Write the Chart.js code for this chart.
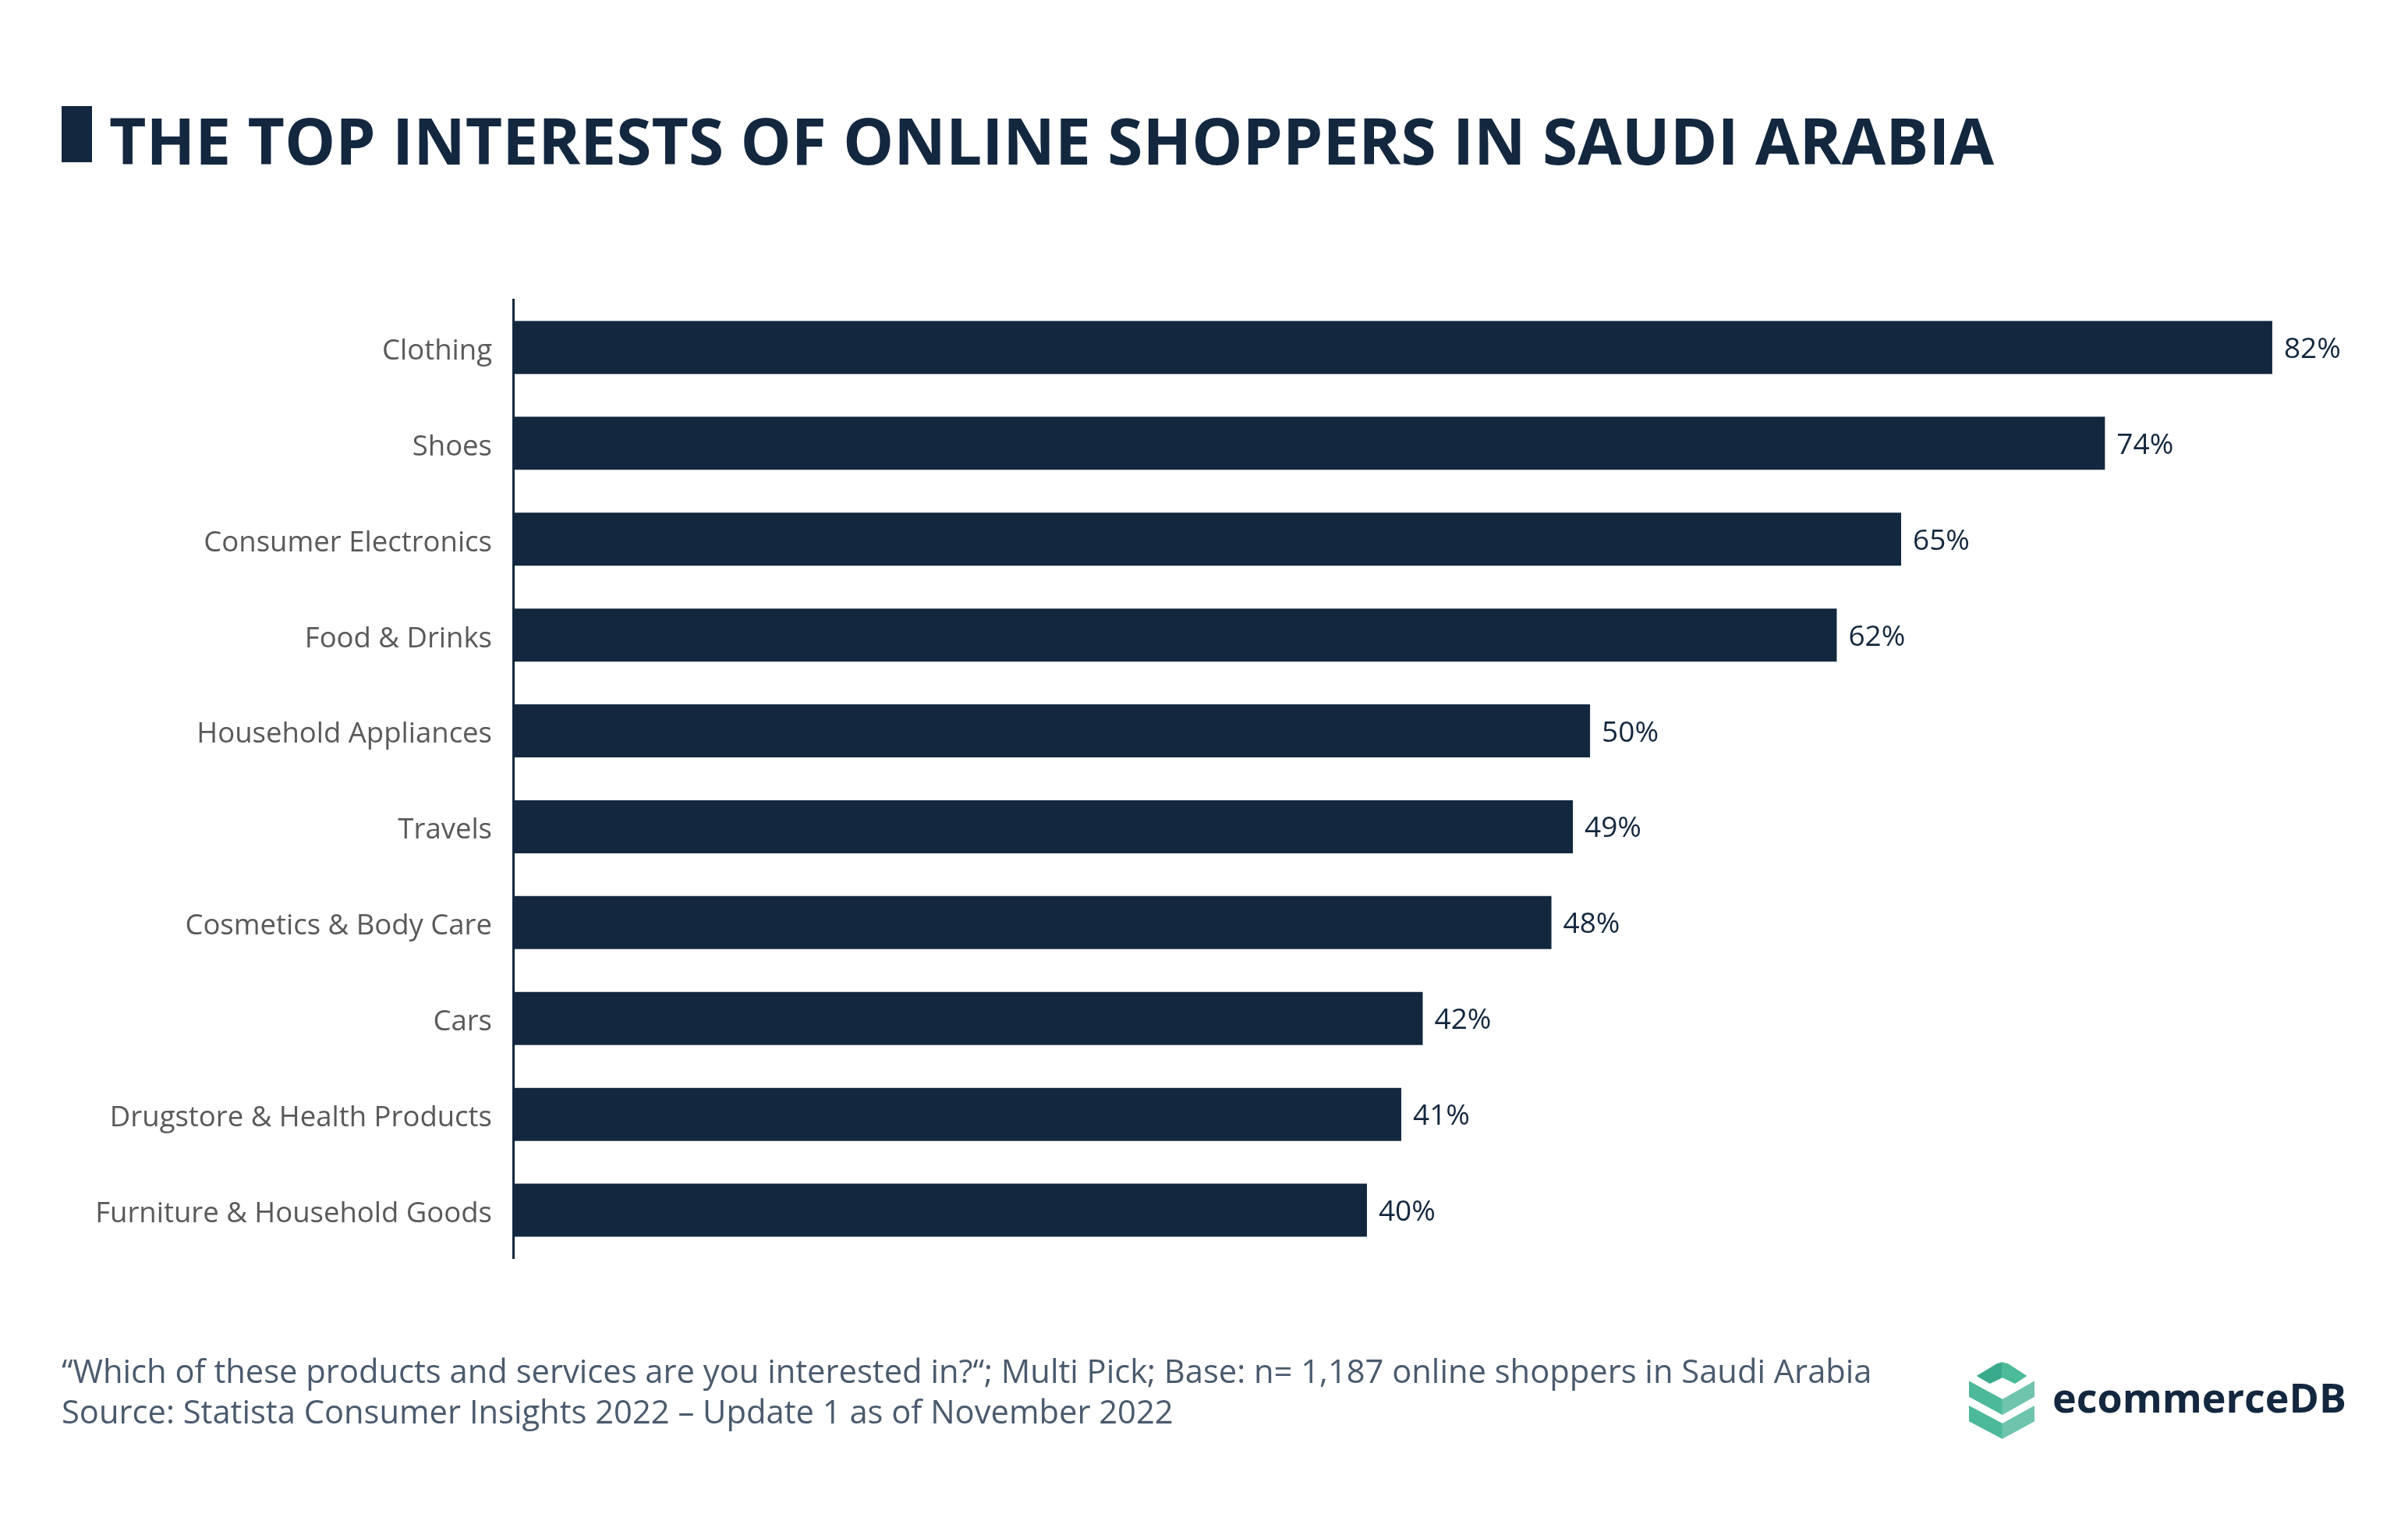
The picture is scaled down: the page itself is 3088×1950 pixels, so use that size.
<!DOCTYPE html>
<html>
<head>
<meta charset="utf-8">
<script src="https://cdn.jsdelivr.net/npm/chart.js@4/dist/chart.umd.min.js"></script>
<style>
	html, body { margin: 0; padding: 0; background: #fff; }
	body { width: 3088px; height: 1950px; position: relative; overflow: hidden; font-family: 'Open Sans', sans-serif; }
	#chart { position: absolute; left: 0; top: 0; }
	.title-mark { position: absolute; left: 79px; top: 136px; width: 39px; height: 72px; background: #13273f; }
	.title { position: absolute; left: 140px; top: 121px; font-size: 82px; font-weight: 700; color: #13273f; line-height: 116px; white-space: nowrap; }
	.note { position: absolute; left: 79px; top: 1731px; font-size: 41.7px; line-height: 52px; color: #4a5a6e; white-space: nowrap; }
	.logo-icon { position: absolute; left: 2525px; top: 1746px; }
	.logo-text { position: absolute; left: 2632px; top: 1756px; font-size: 52px; font-weight: 700; color: #13273f; line-height: 70px; }
</style>
</head>
<body>
<canvas id="chart" width="3088" height="1950"></canvas>
<div class="title-mark"></div>
<div class="title">THE TOP INTERESTS OF ONLINE SHOPPERS IN SAUDI ARABIA</div>
<div class="note">“Which of these products and services are you interested in?“; Multi Pick; Base: n= 1,187 online shoppers in Saudi Arabia<br>Source: Statista Consumer Insights 2022 – Update 1 as of November 2022</div>
<svg class="logo-icon" width="84" height="99" viewBox="125 72 235 276">
	<polygon points="152,122 225,78 245,72 245,128 200,150" fill="#3aaa8d"/>
	<polygon points="245,72 265,78 333,122 290,150 245,128" fill="#4cbb9a"/>
	<polygon points="125,140 245,205 245,262 125,197" fill="#4cb99a"/>
	<polygon points="245,205 360,140 360,197 245,262" fill="#6fc4ae"/>
	<polygon points="125,228 245,292 245,348 125,285" fill="#4cb99a"/>
	<polygon points="245,292 360,228 360,285 245,348" fill="#6fc4ae"/>
</svg>
<div class="logo-text">ecommerceDB</div>
<script>
const categories = [
	'Clothing',
	'Shoes',
	'Consumer Electronics',
	'Food & Drinks',
	'Household Appliances',
	'Travels',
	'Cosmetics & Body Care',
	'Cars',
	'Drugstore & Health Products',
	'Furniture & Household Goods'
];
// bar lengths (unrounded)
const shares = [82.0, 74.2, 64.7, 61.7, 50.2, 49.4, 48.4, 42.4, 41.4, 39.8];
// percentages as printed next to the bars
const shareLabels = [82, 74, 65, 62, 50, 49, 48, 42, 41, 40];

const navy = '#13273f';

// percent labels at the end of each bar
const valueLabels = {
	id: 'valueLabels',
	afterDatasetsDraw: (chart) => {
		const ctx = chart.ctx;
		const meta = chart.getDatasetMeta(0);
		ctx.save();
		ctx.font = '37px "Open Sans"';
		ctx.fillStyle = navy;
		ctx.textAlign = 'left';
		ctx.textBaseline = 'middle';
		meta.data.forEach((bar, i) => {
			ctx.fillText(shareLabels[i] + '%', bar.x + 15, bar.y + 3);
		});
		ctx.restore();
	}
};

const ctx = document.getElementById('chart').getContext('2d');
new Chart(ctx, {
	type: 'bar',
	data: {
		labels: categories,
		datasets: [{
			data: shares,
			backgroundColor: navy,
			borderWidth: 0,
			barPercentage: 0.553,
			categoryPercentage: 1
		}]
	},
	options: {
		indexAxis: 'y',
		responsive: false,
		animation: false,
		devicePixelRatio: 1,
		layout: {
			padding: { left: 0, right: 9, top: 384, bottom: 337 }
		},
		plugins: {
			legend: { display: false },
			tooltip: { enabled: false }
		},
		scales: {
			x: {
				display: false,
				min: 0,
				max: 88
			},
			y: {
				afterFit: (scale) => { scale.width = 658; },
				grid: { display: false, drawTicks: false },
				border: { display: true, color: navy, width: 3 },
				ticks: {
					color: '#595959',
					padding: 27,
					labelOffset: 5,
					font: { family: 'Open Sans', size: 36.5 }
				}
			}
		}
	},
	plugins: [valueLabels]
});
</script>
</body>
</html>
